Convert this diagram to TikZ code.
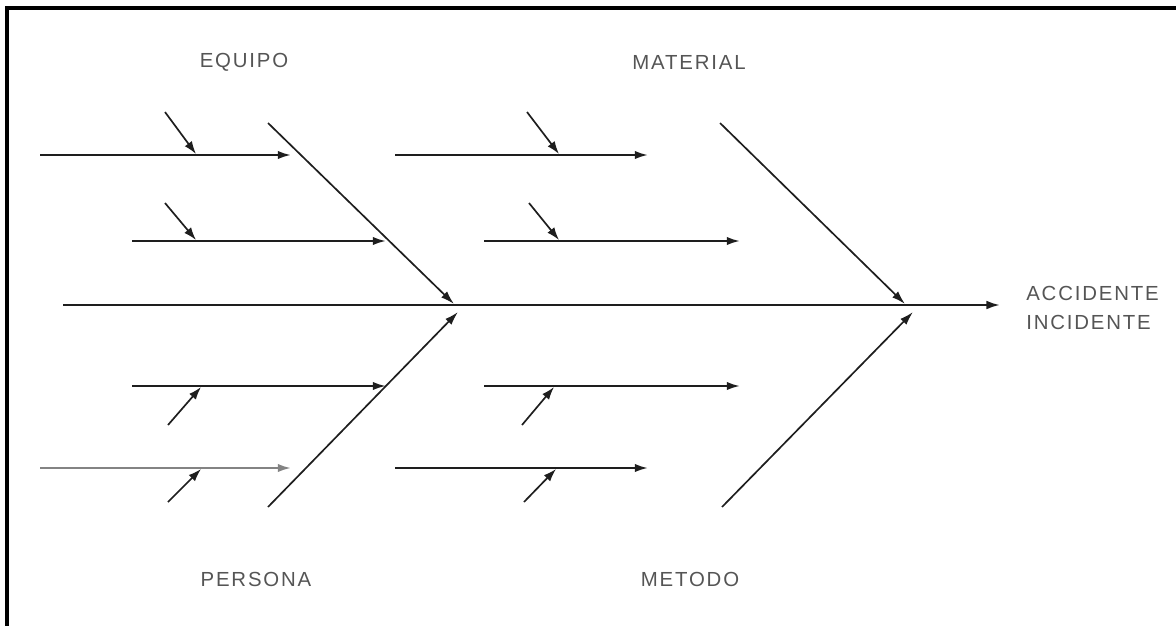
\documentclass[tikz,border=0pt]{standalone}
\usepackage{fontspec}
\setmainfont{Liberation Sans}
\usetikzlibrary{arrows.meta}
\definecolor{ink}{HTML}{1E1E1E}
\definecolor{labelgray}{HTML}{555555}
\tikzset{
  frame/.style={draw=black,line width=2.2pt},
  spine/.style={-{Latex[length=3.4mm,width=2.2mm]},draw=ink,line width=1.6pt},
  bone/.style={-{Latex[length=3.4mm,width=2.1mm]},draw=ink,line width=1.2pt},
  rib/.style={-{Latex[length=3.3mm,width=2.1mm]},draw=ink,line width=1.5pt},
  twig/.style={-{Latex[length=3.2mm,width=2.2mm]},draw=ink,line width=1.2pt},
  catlabel/.style={font=\fontsize{14.5}{16}\selectfont\addfontfeature{LetterSpace=9},
    text=labelgray,inner sep=0pt},
  headlabel/.style={font=\fontsize{14.5}{21}\selectfont\addfontfeature{LetterSpace=9},
    text=labelgray,align=left,inner sep=0pt}
}
\begin{document}
\begin{tikzpicture}[x=0.025cm,y=-0.025cm]
  \useasboundingbox (0,0) rectangle (1176,625);
  \draw[frame] (7,630) -- (7,8) -- (1180,8);

  % Spine and effect.
  \coordinate (tail) at (63,305);
  \coordinate (mouth) at (1000,305);
  \draw[spine] (tail) -- (mouth);
  \node[headlabel,anchor=west] (effect) at (1026,308) {ACCIDENTE\\INCIDENTE};

  % Category labels.
  \node[catlabel] (equipo) at (244,62) {EQUIPO};
  \node[catlabel] (material) at (689,62) {MATERIAL};
  \node[catlabel] (persona) at (256,579) {PERSONA};
  \node[catlabel] (metodo) at (690,579) {METODO};

  % Main bones.
  \coordinate (eq0) at (268,123);   \coordinate (eq1) at (454,304);
  \coordinate (ma0) at (720,123);   \coordinate (ma1) at (905,304);
  \coordinate (pe0) at (268,507);   \coordinate (pe1) at (458,312);
  \coordinate (me0) at (722,507);   \coordinate (me1) at (913,312);
  \draw[bone] (eq0) -- (eq1);
  \draw[bone] (ma0) -- (ma1);
  \draw[bone] (pe0) -- (pe1);
  \draw[bone] (me0) -- (me1);

  % Ribs, upper half.
  \coordinate (r1a) at (40,155);   \coordinate (r1b) at (291,155);
  \coordinate (r2a) at (132,241);  \coordinate (r2b) at (386,241);
  \coordinate (r3a) at (395,155);  \coordinate (r3b) at (648,155);
  \coordinate (r4a) at (484,241);  \coordinate (r4b) at (740,241);
  \draw[rib] (r1a) -- (r1b);
  \draw[rib] (r2a) -- (r2b);
  \draw[rib] (r3a) -- (r3b);
  \draw[rib] (r4a) -- (r4b);

  % Ribs, lower half.
  \coordinate (r5a) at (132,386);  \coordinate (r5b) at (386,386);
  \coordinate (r6a) at (40,468);   \coordinate (r6b) at (291,468);
  \coordinate (r7a) at (484,386);  \coordinate (r7b) at (740,386);
  \coordinate (r8a) at (395,468);  \coordinate (r8b) at (648,468);
  \draw[rib] (r5a) -- (r5b);
  \draw[rib,draw=ink!55] (r6a) -- (r6b);
  \draw[rib] (r7a) -- (r7b);
  \draw[rib] (r8a) -- (r8b);

  % Twigs onto the ribs.
  \coordinate (t1a) at (165,112);  \coordinate (t1b) at (196,154);
  \coordinate (t2a) at (165,203);  \coordinate (t2b) at (196,240);
  \coordinate (t3a) at (527,112);  \coordinate (t3b) at (559,154);
  \coordinate (t4a) at (529,203);  \coordinate (t4b) at (559,240);
  \coordinate (t5a) at (168,425);  \coordinate (t5b) at (201,387);
  \coordinate (t6a) at (168,502);  \coordinate (t6b) at (201,469);
  \coordinate (t7a) at (522,425);  \coordinate (t7b) at (554,387);
  \coordinate (t8a) at (524,502);  \coordinate (t8b) at (556,469);
  \foreach \t in {1,...,8}
    \draw[twig] (t\t a) -- (t\t b);
\end{tikzpicture}
\end{document}
